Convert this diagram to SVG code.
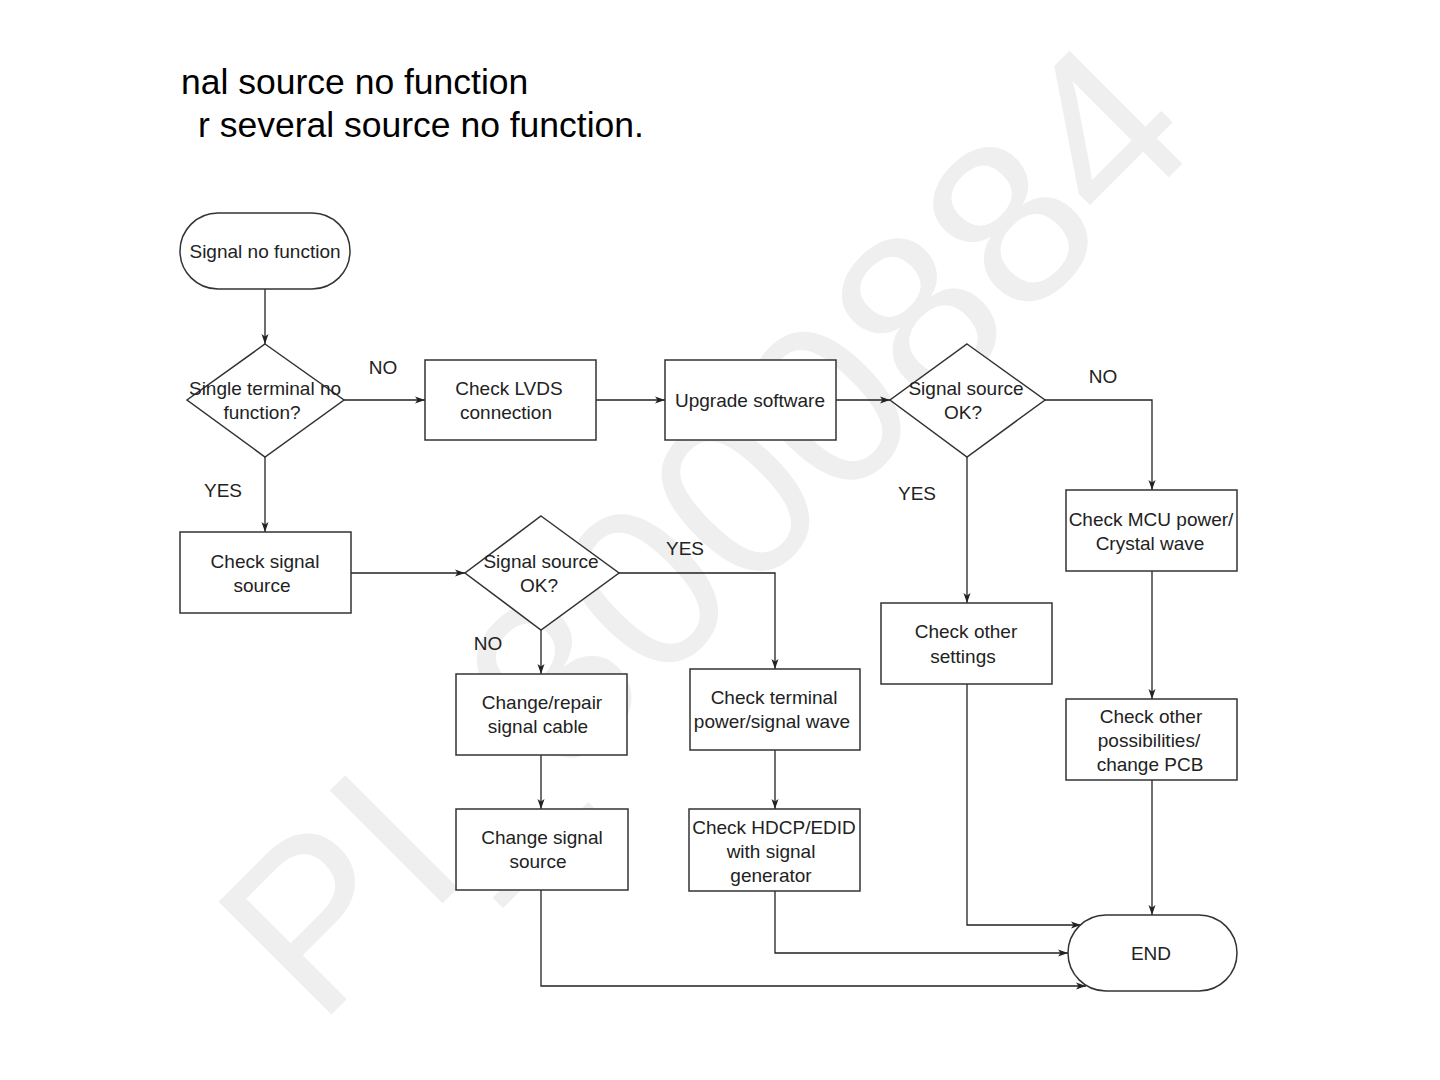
<svg xmlns="http://www.w3.org/2000/svg" width="1440" height="1080" viewBox="0 0 1440 1080">
  <defs>
    <marker id="arr" viewBox="0 0 10 8" refX="10" refY="4" markerWidth="10" markerHeight="8" markerUnits="userSpaceOnUse" orient="auto">
      <path d="M0,0.5 L10,4 L0,7.5 L2.5,4 Z" fill="#222"/>
    </marker>
    <style>
      .box { fill: #ffffff; stroke: #333333; stroke-width: 1.5; }
      .lbl { font-family: "Liberation Sans", Arial, sans-serif; font-size: 19px; fill: #222222; text-anchor: middle; }
      .edge { fill: none; stroke: #222222; stroke-width: 1.3; marker-end: url(#arr); }
      .title { font-family: "Liberation Sans", Arial, sans-serif; font-size: 35.5px; fill: #000000; }
      .wm { font-family: "Liberation Sans", Arial, sans-serif; font-size: 232px; fill: #efefef; }
    </style>
  </defs>
  <rect x="0" y="0" width="1440" height="1080" fill="#ffffff"/>
  <text class="wm" x="318" y="1028" transform="rotate(-45 318 1028)">PI_3000884</text>

  <g id="title">
    <text class="title" x="181" y="94">nal source no function</text>
    <text class="title" x="198" y="137">r several source no function.</text>
  </g>

  <g id="connectors">
    <path class="edge" d="M265,289 L265,344"/>
    <path class="edge" d="M344,400 L425,400"/>
    <path class="edge" d="M596,400 L665,400"/>
    <path class="edge" d="M836,400 L890,400"/>
    <path class="edge" d="M1045,400 L1152,400 L1152,490"/>
    <path class="edge" d="M1152,571 L1152,699"/>
    <path class="edge" d="M1152,780 L1152,915"/>
    <path class="edge" d="M967,457 L967,603"/>
    <path class="edge" d="M967,684 L967,925 L1081,925"/>
    <path class="edge" d="M265,457 L265,532"/>
    <path class="edge" d="M351,573 L465,573"/>
    <path class="edge" d="M619,573 L775,573 L775,669"/>
    <path class="edge" d="M775,750 L775,809"/>
    <path class="edge" d="M775,891 L775,953 L1068,953"/>
    <path class="edge" d="M541,630 L541,674"/>
    <path class="edge" d="M541,755 L541,809"/>
    <path class="edge" d="M541,890 L541,986 L1086,986"/>
  </g>

  <g id="edge-labels">
    <text class="lbl" x="383" y="374">NO</text>
    <text class="lbl" x="223" y="497">YES</text>
    <text class="lbl" x="1103" y="383">NO</text>
    <text class="lbl" x="917" y="500">YES</text>
    <text class="lbl" x="685" y="555">YES</text>
    <text class="lbl" x="488" y="650">NO</text>
  </g>

  <g id="start">
    <rect class="box" x="180" y="213" width="170" height="76" rx="38" ry="38"/>
    <text class="lbl" x="265" y="258">Signal no function</text>
  </g>

  <g id="single-terminal">
    <polygon class="box" points="265,344 344,400 265,457 187,400"/>
    <text class="lbl" x="265" y="395">Single terminal no</text>
    <text class="lbl" x="262" y="419">function?</text>
  </g>

  <g id="check-lvds">
    <rect class="box" x="425" y="360" width="171" height="80"/>
    <text class="lbl" x="509" y="395">Check LVDS</text>
    <text class="lbl" x="506" y="419">connection</text>
  </g>

  <g id="upgrade-software">
    <rect class="box" x="665" y="360" width="171" height="80"/>
    <text class="lbl" x="750" y="407">Upgrade software</text>
  </g>

  <g id="signal-source-ok-1">
    <polygon class="box" points="967,344 1045,400 967,457 890,400"/>
    <text class="lbl" x="966" y="395">Signal source</text>
    <text class="lbl" x="963" y="419">OK?</text>
  </g>

  <g id="check-mcu">
    <rect class="box" x="1066" y="490" width="171" height="81"/>
    <text class="lbl" x="1151" y="526">Check MCU power/</text>
    <text class="lbl" x="1150" y="550">Crystal wave</text>
  </g>

  <g id="check-other-possibilities">
    <rect class="box" x="1066" y="699" width="171" height="81"/>
    <text class="lbl" x="1151" y="723">Check other</text>
    <text class="lbl" x="1149" y="747">possibilities/</text>
    <text class="lbl" x="1150" y="771">change PCB</text>
  </g>

  <g id="check-other-settings">
    <rect class="box" x="881" y="603" width="171" height="81"/>
    <text class="lbl" x="966" y="638">Check other</text>
    <text class="lbl" x="963" y="663">settings</text>
  </g>

  <g id="check-signal-source">
    <rect class="box" x="180" y="532" width="171" height="81"/>
    <text class="lbl" x="265" y="568">Check signal</text>
    <text class="lbl" x="262" y="592">source</text>
  </g>

  <g id="signal-source-ok-2">
    <polygon class="box" points="541,516 619,573 541,630 465,573"/>
    <text class="lbl" x="541" y="568">Signal source</text>
    <text class="lbl" x="539" y="592">OK?</text>
  </g>

  <g id="check-terminal">
    <rect class="box" x="690" y="669" width="170" height="81"/>
    <text class="lbl" x="774" y="704">Check terminal</text>
    <text class="lbl" x="772" y="728">power/signal wave</text>
  </g>

  <g id="check-hdcp">
    <rect class="box" x="689" y="809" width="171" height="82"/>
    <text class="lbl" x="774" y="834">Check HDCP/EDID</text>
    <text class="lbl" x="771" y="858">with signal</text>
    <text class="lbl" x="771" y="882">generator</text>
  </g>

  <g id="change-repair-cable">
    <rect class="box" x="456" y="674" width="171" height="81"/>
    <text class="lbl" x="542" y="709">Change/repair</text>
    <text class="lbl" x="538" y="733">signal cable</text>
  </g>

  <g id="change-signal-source">
    <rect class="box" x="456" y="809" width="172" height="81"/>
    <text class="lbl" x="542" y="844">Change signal</text>
    <text class="lbl" x="538" y="868">source</text>
  </g>

  <g id="end">
    <rect class="box" x="1068" y="915" width="169" height="76" rx="38" ry="38"/>
    <text class="lbl" x="1151" y="960">END</text>
  </g>
</svg>
